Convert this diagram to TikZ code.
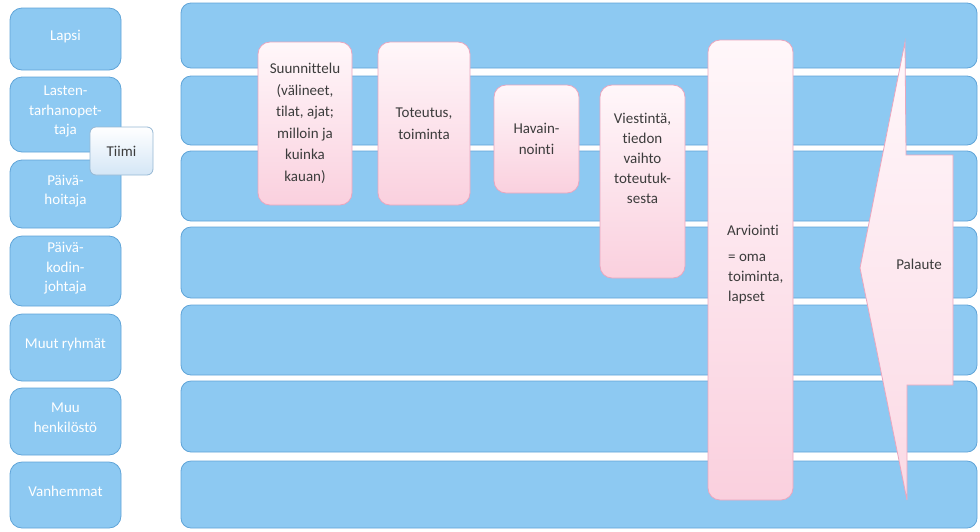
\documentclass[tikz,border=0pt]{standalone}
\usepackage{fontspec}
\setmainfont{Carlito}[Ligatures=NoCommon]
\usepackage{xcolor}
\usetikzlibrary{positioning}

\definecolor{bandblue}{RGB}{141,201,242}
\definecolor{bandedge}{RGB}{96,164,216}
\definecolor{pinktop}{RGB}{255,247,250}
\definecolor{pinkbot}{RGB}{250,208,222}
\definecolor{pinkedge}{RGB}{234,166,190}
\definecolor{teamtop}{RGB}{255,255,255}
\definecolor{teambot}{RGB}{212,230,246}
\definecolor{teamedge}{RGB}{150,184,212}
\definecolor{txtgray}{RGB}{60,60,60}

\begin{document}
\begin{tikzpicture}[x=1pt, y=-1pt, font=\fontsize{15}{19.5}\selectfont]

    % --- STYLES ---
    \tikzset{
        rowband/.style={draw=bandedge, fill=bandblue, line width=0.8pt, rounded corners=10pt, inner sep=0pt},
        rolebox/.style={rowband, rounded corners=12pt, text=white, align=center, minimum width=111pt,
                        text depth=8pt},
        phasebox/.style={draw=pinkedge, top color=pinktop, bottom color=pinkbot, line width=0.8pt,
                         rounded corners=12pt, inner sep=0pt, text=txtgray, align=center,
                         font=\fontsize{15}{21.5}\selectfont},
        phasetext/.style={text=txtgray, inner sep=0pt, font=\fontsize{15}{20}\selectfont},
        teambox/.style={draw=teamedge, top color=teamtop, bottom color=teambot, line width=0.8pt,
                        rounded corners=6pt, text=txtgray, inner sep=0pt}
    }

    \useasboundingbox (0,0) rectangle (980,531);

    % --- RIVIT (oikealla) ---
    \foreach \n/\t/\b in {1/3/68, 2/76/145, 3/151/221, 4/227/298, 5/305/375, 6/381/452, 7/461/528}
        \node[rowband, minimum width=796pt, minimum height={(\b-\t)*1pt}] (band\n) at (579,{(\t+\b)/2}) {};

    % --- ROOLIT (vasemmalla) ---
    \foreach \n/\t/\b/\txt in {lapsi/8/70/Lapsi,
                               lto/77/152/{Lasten-\\tarhanopet-\\taja},
                               hoitaja/160/228/{Päivä-\\hoitaja},
                               johtaja/236/306/{Päivä-\\kodin-\\johtaja},
                               ryhmat/314/381/{Muut ryhmät},
                               henkilosto/388/455/{Muu\\henkilöstö},
                               vanhemmat/462/528/Vanhemmat}
        \node[rolebox, minimum height={(\b-\t)*1pt}] (\n) at (65.5,{(\t+\b)/2}) {\txt};

    \node[teambox, minimum width=63pt, minimum height=48pt] (tiimi) at (121.5,151) {Tiimi};

    % --- VAIHEET ---
    \node[phasebox, minimum width=94pt, minimum height=163pt] (suunnittelu) at (305,123.5)
        {Suunnittelu\\(välineet,\\tilat, ajat;\\milloin ja\\kuinka\\kauan)};
    \node[phasebox, minimum width=92pt, minimum height=163pt] (toteutus) at (424,123.5)
        {Toteutus,\\toiminta};
    \node[phasebox, minimum width=85pt, minimum height=108pt] (havainnointi) at (536.5,139)
        {Havain-\\nointi};

    \node[phasebox, minimum width=85pt, minimum height=193pt] (viestinta) at (642.5,181.5) {};
    \node[phasetext, align=center] (viestintatxt) at (642.5,158)
        {Viestintä,\\tiedon\\vaihto\\toteutuk-\\sesta};

    \node[phasebox, minimum width=85pt, minimum height=460pt] (arviointi) at (750.5,270) {};
    \node[phasetext] (arvotsikko) at (753,230) {Arviointi};
    \node[phasetext, align=left, anchor=west] (arvselite) at (728,279) {= oma\\toiminta,\\lapset};

    % --- PALAUTE (nuoli vasemmalle) ---
    \draw[draw=pinkedge, top color=pinktop, bottom color=pinkbot!80, line width=0.8pt]
        (905,42) -- (906,155) -- (953,155) -- (953,385) -- (907,385) -- (907,500) -- (860,268) -- cycle;
    \node[phasetext] (palaute) at (919,264) {Palaute};

\end{tikzpicture}
\end{document}
